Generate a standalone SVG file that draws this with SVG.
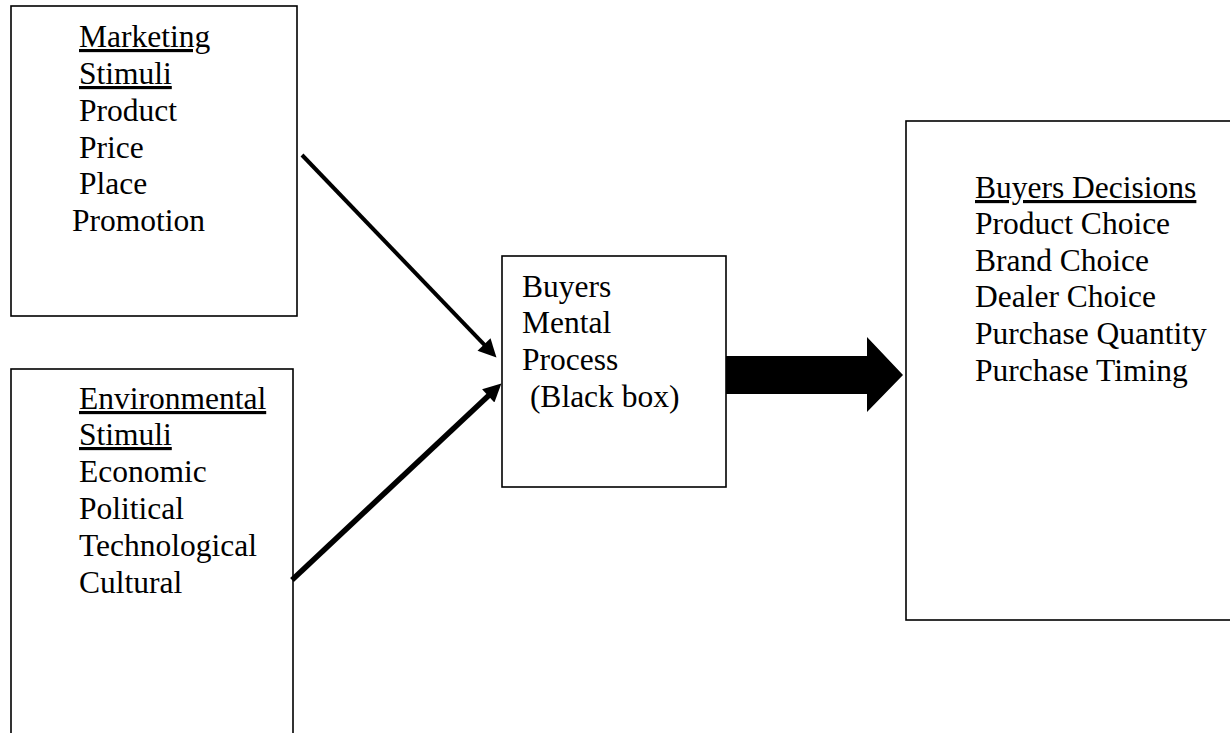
<svg xmlns="http://www.w3.org/2000/svg" width="1230" height="733" viewBox="0 0 1230 733">
<defs>
<style>
.box{fill:#fff;stroke:#000;stroke-width:1.6}
.t{font-family:"Liberation Serif","Times New Roman",serif;font-size:31.5px;fill:#000}
.u{text-decoration:underline}
.conn{stroke:#000;fill:none}
</style>
<marker id="ah" viewBox="0 0 10 10" refX="4" refY="5" markerUnits="userSpaceOnUse" markerWidth="22" markerHeight="18" orient="auto">
<path d="M0,0 L10,5 L0,10 z" fill="#000"/>
</marker>
</defs>
<rect width="1230" height="733" fill="#fff"/>
<g id="marketing">
<rect class="box" x="11" y="6" width="286" height="310"/>
<text class="t u" x="79" y="47">Marketing</text>
<text class="t u" x="79" y="84">Stimuli</text>
<text class="t" x="79" y="121">Product</text>
<text class="t" x="79" y="158">Price</text>
<text class="t" x="79" y="194">Place</text>
<text class="t" x="72" y="231">Promotion</text>
</g>
<g id="environmental">
<rect class="box" x="11" y="369" width="282" height="400"/>
<text class="t u" x="79" y="409">Environmental</text>
<text class="t u" x="79" y="445">Stimuli</text>
<text class="t" x="79" y="482">Economic</text>
<text class="t" x="79" y="519">Political</text>
<text class="t" x="79" y="556">Technological</text>
<text class="t" x="79" y="593">Cultural</text>
</g>
<g id="mental">
<rect class="box" x="502" y="256" width="224" height="231"/>
<text class="t" x="522" y="297">Buyers</text>
<text class="t" x="522" y="333">Mental</text>
<text class="t" x="522" y="370">Process</text>
<text class="t" x="522" y="407" xml:space="preserve"> (Black box)</text>
</g>
<g id="decisions">
<rect class="box" x="906" y="121" width="340" height="499"/>
<text class="t u" x="975" y="198">Buyers Decisions</text>
<text class="t" x="975" y="234">Product Choice</text>
<text class="t" x="975" y="271">Brand Choice</text>
<text class="t" x="975" y="307">Dealer Choice</text>
<text class="t" x="975" y="344">Purchase Quantity</text>
<text class="t" x="975" y="381">Purchase Timing</text>
</g>
<g id="connectors">
<line class="conn" x1="302" y1="155" x2="489" y2="349.6" stroke-width="4" marker-end="url(#ah)"/>
<line class="conn" x1="292" y1="580" x2="493.5" y2="390.9" stroke-width="5.5" marker-end="url(#ah)"/>
<polygon points="726,356 867,356 867,337 903,375 867,412 867,394 726,394" fill="#000"/>
</g>
</svg>
